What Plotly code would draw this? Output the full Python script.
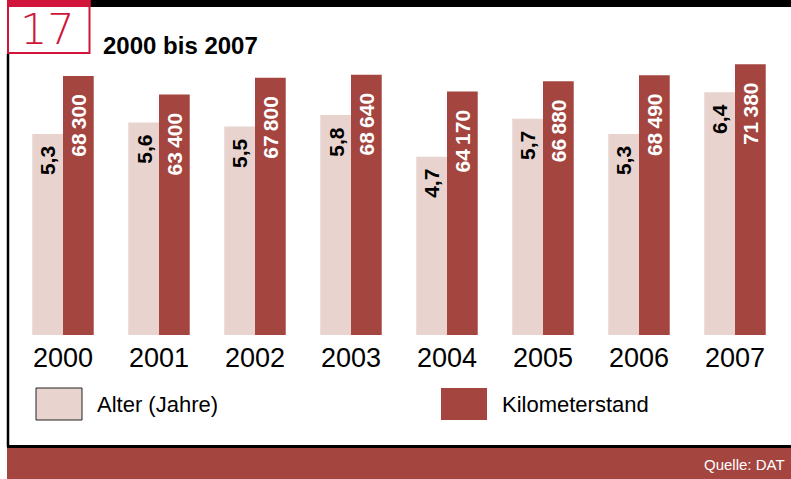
import plotly.graph_objects as go

years = ["2000", "2001", "2002", "2003", "2004", "2005", "2006", "2007"]
alter = [5.3, 5.6, 5.5, 5.8, 4.7, 5.7, 5.3, 6.4]
km = [68300, 63400, 67800, 68640, 64170, 66880, 68490, 71380]

title_text = "2000 bis 2007"
badge_text = "17"
legend_labels = ["Alter (Jahre)", "Kilometerstand"]
source_text = "Quelle: DAT"

LIGHT = "#e9d3cf"
DARK = "#a4453f"
CRIMSON = "#d0143a"
SANS = "Liberation Sans, Arial, sans-serif"

W, H = 791, 479
ML, MR, MT, MB = 15, 8, 60, 144
PW = W - ML - MR
PH = H - MT - MB


def px(x):
    return (x - ML) / PW


def py(y):
    return (H - MB - y) / PH


pos = list(range(len(years)))

fig = go.Figure()
fig.add_trace(go.Bar(x=pos, y=alter, width=0.32, offset=-0.32,
                     marker=dict(color=LIGHT, line=dict(width=0)),
                     yaxis="y", hoverinfo="skip", showlegend=False))
fig.add_trace(go.Bar(x=pos, y=km, width=0.32, offset=0.0,
                     marker=dict(color=DARK, line=dict(width=0)),
                     yaxis="y2", hoverinfo="skip", showlegend=False))

annotations = []
for i, a, k in zip(pos, alter, km):
    annotations.append(dict(x=i - 0.16, y=a, xref="x", yref="y", yshift=-10,
                            text="<b>" + f"{a:.1f}".replace(".", ",") + "</b>", textangle=-90,
                            showarrow=False, xanchor="center", yanchor="top",
                            font=dict(family=SANS, size=21, color="black")))
    annotations.append(dict(x=i + 0.16, y=k, xref="x", yref="y2", yshift=-16,
                            text="<b>" + f"{k:,}".replace(",", "\u2009") + "</b>", textangle=-90,
                            showarrow=False, xanchor="center", yanchor="top",
                            font=dict(family=SANS, size=21, color="white")))

annotations += [
    dict(x=px(101), y=py(45), xref="paper", yref="paper", text=f"<b>{title_text}</b>",
         showarrow=False, xanchor="left", yanchor="middle",
         font=dict(family=SANS, size=24, color="black")),
    dict(x=px(47), y=py(28.5), xref="paper", yref="paper", text=badge_text,
         showarrow=False, xanchor="center", yanchor="middle",
         font=dict(family="DejaVu Sans", size=43, color=CRIMSON, weight=200)),
    dict(x=px(95), y=py(404), xref="paper", yref="paper", text=legend_labels[0],
         showarrow=False, xanchor="left", yanchor="middle",
         font=dict(family=SANS, size=22, color="black")),
    dict(x=px(500), y=py(404), xref="paper", yref="paper", text=legend_labels[1],
         showarrow=False, xanchor="left", yanchor="middle",
         font=dict(family=SANS, size=22, color="black")),
    dict(x=px(787), y=py(464.5), xref="paper", yref="paper", text=source_text,
         showarrow=False, xanchor="right", yanchor="middle",
         font=dict(family=SANS, size=15, color="white")),
]

shapes = [
    dict(type="rect", x0=px(90), x1=px(795), y0=py(0), y1=py(7), xref="paper", yref="paper",
         fillcolor="black", line=dict(width=0), layer="above"),
    dict(type="rect", x0=px(7), x1=px(90.5), y0=py(-2), y1=py(7), xref="paper", yref="paper",
         fillcolor=CRIMSON, line=dict(width=0), layer="above"),
    dict(type="rect", x0=px(8), x1=px(89.5), y0=py(1), y1=py(53), xref="paper", yref="paper",
         fillcolor="rgba(0,0,0,0)", line=dict(color=CRIMSON, width=2), layer="above"),
    dict(type="line", x0=px(8), x1=px(8), y0=py(54), y1=py(447), xref="paper", yref="paper",
         line=dict(color="black", width=2.5), layer="above"),
    dict(type="rect", x0=px(7), x1=px(795), y0=py(448), y1=py(482), xref="paper", yref="paper",
         fillcolor=DARK, line=dict(width=0), layer="above"),
    dict(type="line", x0=px(7), x1=px(795), y0=py(446.5), y1=py(446.5), xref="paper", yref="paper",
         line=dict(color="black", width=3), layer="above"),
    dict(type="rect", x0=px(36), x1=px(82), y0=py(388), y1=py(420), xref="paper", yref="paper",
         fillcolor=LIGHT, line=dict(color="#222222", width=1), layer="above"),
    dict(type="rect", x0=px(441), x1=px(487), y0=py(388), y1=py(420), xref="paper", yref="paper",
         fillcolor=DARK, line=dict(width=0), layer="above"),
]

hidden_y = dict(showgrid=False, zeroline=False, showline=False, showticklabels=False,
                ticks="", fixedrange=True)

fig.update_layout(
    width=W, height=H,
    margin=dict(l=ML, r=MR, t=MT, b=MB, pad=0),
    paper_bgcolor="white", plot_bgcolor="white",
    barmode="overlay",
    showlegend=False,
    xaxis=dict(range=[-0.5, 7.5], tickmode="array", tickvals=pos, ticktext=years,
               showgrid=False, zeroline=False, showline=False, ticks="",
               ticklabelstandoff=4,
               tickfont=dict(family=SANS, size=27, color="black"), fixedrange=True),
    yaxis=dict(range=[0, 7.25], **hidden_y),
    yaxis2=dict(range=[0, 72500], overlaying="y", side="left", **hidden_y),
    annotations=annotations,
    shapes=shapes,
)

fig.write_html("out.html", config={"displayModeBar": False},
               post_script="document.body.style.margin='0';document.body.style.overflow='hidden';")
